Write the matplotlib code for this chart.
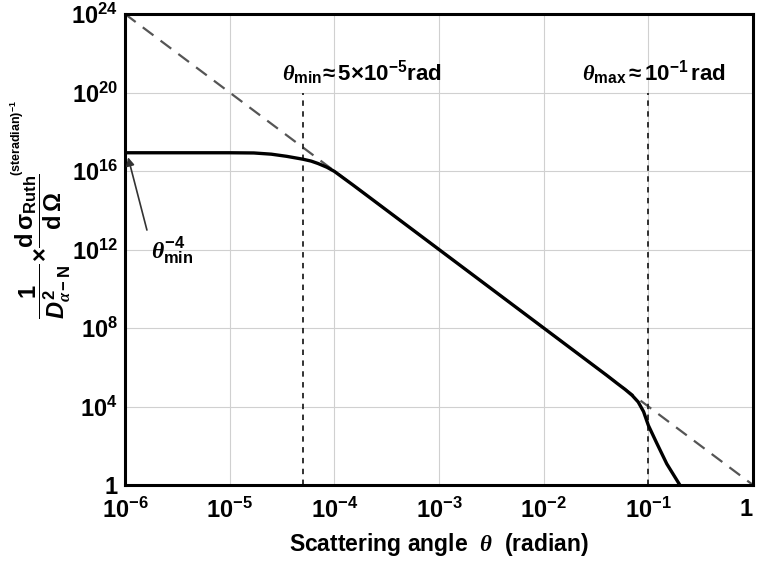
import numpy as np
import matplotlib
matplotlib.use("Agg")
import matplotlib.pyplot as plt

plt.rcParams['font.family'] = ['Liberation Sans', 'DejaVu Sans']
plt.rcParams['font.weight'] = 'bold'
plt.rcParams['mathtext.fontset'] = 'custom'
plt.rcParams['mathtext.rm'] = 'Liberation Sans:bold'
plt.rcParams['mathtext.bf'] = 'Liberation Sans:bold'
plt.rcParams['mathtext.sf'] = 'Liberation Sans:bold'
plt.rcParams['mathtext.it'] = 'Liberation Serif:italic'
plt.rcParams['mathtext.cal'] = 'Liberation Sans:bold:italic'

# Rutherford asymptote  theta^-4  (dashed)
theta_ruth = [1e-6, 1.0]
ruth_vals = [1e24, 1.0]

# screened / finite-size cross section (solid)
theta_curve = [1e-6, 1e-5, 1.7e-5, 2.5e-5, 3.5e-5, 5e-5, 6e-5, 7e-5, 8.5e-5,
               1e-4, 1.2e-4, 1.5e-4, 2e-4, 1e-3, 1e-2, 4e-2, 5e-2, 6e-2, 7e-2, 8e-2,
               9e-2, 1e-1, 1.2e-1, 1.5e-1, 2e-1]
curve_vals = [8.5e16, 8.5e16, 8.3e16, 7.2e16, 5.6e16, 4e16, 3.2e16, 2.4e16, 1.55e16,
              9.6e15, 4.7e15, 1.97e15, 6.25e14, 1e12, 1e8, 3.9e5, 1.55e5, 7.4e4, 3.7e4, 1.7e4,
              5.5e3, 1.1e3, 1.4e2, 1.2e1, 1.0]

# theta_min and theta_max markers
theta_marks = [5e-5, 1e-1]

x_ticks = [1e-6, 1e-5, 1e-4, 1e-3, 1e-2, 1e-1, 1.0]
x_labels = [r'$\mathbf{10^{-6}}$', r'$\mathbf{10^{-5}}$', r'$\mathbf{10^{-4}}$',
            r'$\mathbf{10^{-3}}$', r'$\mathbf{10^{-2}}$', r'$\mathbf{10^{-1}}$', '1']
y_ticks = [1.0, 1e4, 1e8, 1e12, 1e16, 1e20, 1e24]
y_labels = ['1', r'$\mathbf{10^{4}}$', r'$\mathbf{10^{8}}$', r'$\mathbf{10^{12}}$',
            r'$\mathbf{10^{16}}$', r'$\mathbf{10^{20}}$', r'$\mathbf{10^{24}}$']

W, H = 757, 566
fig = plt.figure(figsize=(W / 100, H / 100), dpi=100)
ax = fig.add_axes([125 / W, 1 - 485 / H, 628 / W, 471 / H])
ax.set_xscale('log')
ax.set_yscale('log')
ax.set_xlim(1e-6, 1)
ax.set_ylim(1, 1e24)
ax.minorticks_off()

ax.set_xticks(x_ticks)
ax.set_xticklabels(x_labels, fontsize=17)
ax.set_yticks(y_ticks)
ax.set_yticklabels(y_labels, fontsize=17)
ax.tick_params(axis='x', length=0, pad=9)
ax.tick_params(axis='y', length=0, pad=5)
ax.get_xticklabels()[-1].set_horizontalalignment('right')
ax.grid(True, color='#d0d0d0', lw=0.8)
ax.set_axisbelow(True)
for s in ax.spines.values():
    s.set_linewidth(2.2)

ax.plot(theta_ruth, ruth_vals, color='#555555', lw=1.6, dashes=(6, 4))
ax.vlines(theta_marks, 1, 1e20, color='#222222', lw=1.3, linestyles=(0, (3, 3)))
ax.plot(theta_curve, curve_vals, color='black', lw=2.4, solid_capstyle='butt')

ax.text(0.377, 0.875, r'$\theta_{\mathbf{min}}\!\approx\mathbf{5{\times}10^{-5}rad}$',
        transform=ax.transAxes, ha='center', va='center', fontsize=16)
ax.text(0.842, 0.875, r'$\theta_{\mathbf{max}}\approx\mathbf{10^{-1}\,rad}$',
        transform=ax.transAxes, ha='center', va='center', fontsize=16)

ax.annotate('', xy=(1.07e-6, 5e16), xytext=(1.62e-6, 9.8e12),
            arrowprops=dict(arrowstyle='-|>', color='#333333', lw=1.2,
                            shrinkA=0, shrinkB=0, mutation_scale=12))
ax.text(2.8e-6, 9e11, r'$\theta^{\mathbf{-4}}_{\mathbf{min}}$', ha='center', va='center',
        fontsize=17)

ax.set_xlabel(r'Scattering angle  $\theta$  (radian)', fontsize=16.5,
              fontweight='bold', labelpad=6)

fig.text(43 / W, 1 - 246 / H,
         r'$\dfrac{\mathbf{1}}{\mathcal{D}^{\,\mathbf{2}}_{\alpha-\mathbf{N}}}\!\times\!'
         r'\dfrac{\mathbf{d}\,\mathrm{\sigma}_{\mathbf{Ruth}}}{\mathbf{d}\,\Omega}$',
         rotation=90, ha='center', va='center', fontsize=17)
fig.text(17 / W, 1 - 138 / H, r'(steradian)$^{\mathbf{-1}}$', rotation=90,
         ha='center', va='center', fontsize=9)

fig.savefig('out.png', dpi=100)
